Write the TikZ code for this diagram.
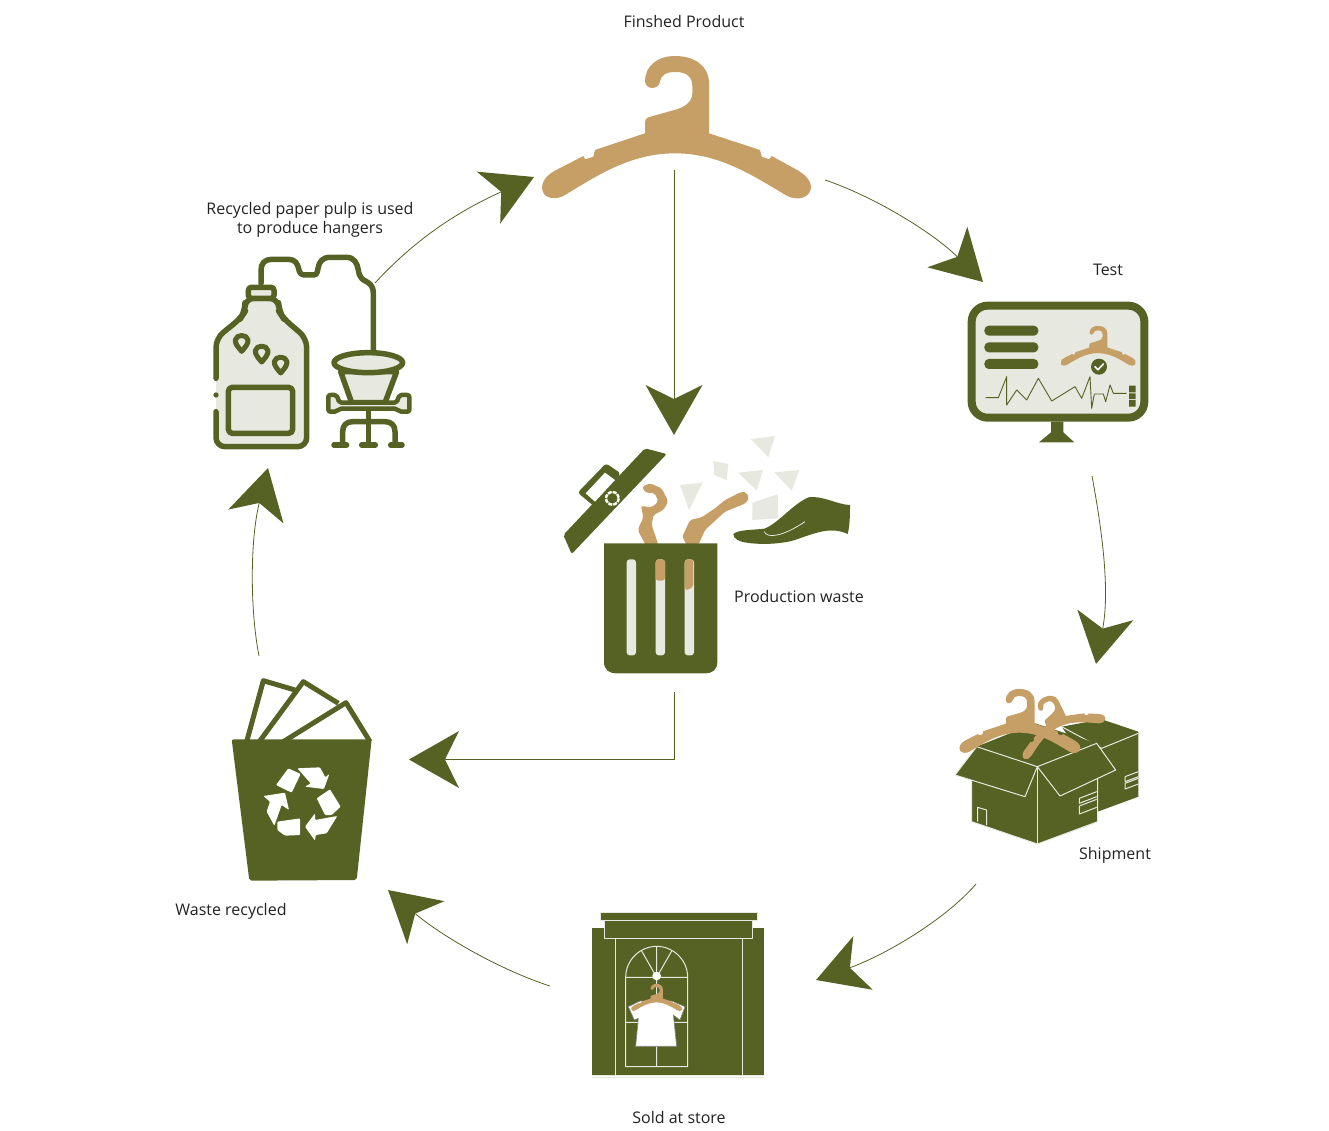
\documentclass[tikz,border=0pt]{standalone}
\usepackage{fontspec}
\setmainfont{Open Sans}
\usetikzlibrary{arrows.meta}
\definecolor{olive}{HTML}{556224}
\definecolor{hangertan}{HTML}{C69F66}
\definecolor{pale}{HTML}{E7E8E0}
\definecolor{labelink}{HTML}{222222}
\tikzset{
  label text/.style={font=\fontsize{16}{19}\selectfont,text=labelink,align=center,inner sep=0pt},
  flow/.style={draw=olive,line width=0.8pt,-{Stealth[length=50pt,width=57pt,inset=14pt,line width=0pt]}},
  pipe/.style={draw=olive,line width=5.5pt,line cap=round,line join=round},
  fine/.style={draw=pale,line width=1pt,line join=round},
}
\newcommand\hangericon[4]{%
  \begin{scope}[shift={(#1,#2)},rotate=#3,scale=#4,shift={(-440,-260)}]
  \fill[hangertan] (345,125) .. controls (348,150) and (385,150) .. (390,125)
    .. controls (392,105) and (410,95) .. (440,96) .. controls (470,97) and (487,110) .. (487,140)
    -- (487,160) .. controls (487,185) and (465,200) .. (440,208) -- (355,232)
    .. controls (347,235) and (345,240) .. (345,248) -- (345,280) -- (195,330) -- (190,350)
    -- (166,358) -- (160,348) -- (75,392) .. controls (40,410) and (28,440) .. (42,462)
    .. controls (55,478) and (85,478) .. (105,465)
    .. controls (200,408) and (300,340) .. (435,340) .. controls (570,340) and (670,408) .. (770,467)
    .. controls (795,480) and (825,478) .. (838,458)
    .. controls (852,435) and (835,410) .. (805,392) -- (725,348) -- (718,358) -- (695,350)
    -- (690,330) -- (537,280) -- (537,130) .. controls (537,75) and (490,48) .. (435,48)
    .. controls (385,48) and (345,75) .. (345,125) -- cycle;
  \end{scope}}
\newcommand\droppin[2]{%
  \draw[draw=olive,line width=5pt,line join=round,fill=pale] (#1,#2+24)
    .. controls (#1-10,#2+12) and (#1-20,#2+2) .. (#1-19,#2-10)
    .. controls (#1-16,#2-28) and (#1+16,#2-28) .. (#1+19,#2-10)
    .. controls (#1+20,#2+2) and (#1+10,#2+12) .. (#1,#2+24) -- cycle;}
\begin{document}
\begin{tikzpicture}[x=1pt,y=-1pt]
\useasboundingbox (0,0) rectangle (1329,1131);

% ---- finished product
\begin{scope}[shift={(530,40)},scale=1/3]
  \hangericon{440}{260}{0}{1}
\end{scope}

% ---- pulp machine
\begin{scope}[shift={(200,250)},scale=1/3]
  \fill[pale,rounded corners=9pt] (48,265) -- (122,205) -- (135,185) -- (135,145) -- (235,145) -- (237,185) -- (250,205)
     -- (320,265) -- (320,590) -- (48,590) -- cycle;
  \draw[pipe,rounded corners=9pt] (48,385) -- (48,265) -- (122,205) -- (135,185) -- (135,145) -- (235,145)
     -- (237,185) -- (250,205) -- (320,265) -- (320,590) -- (48,590) -- (48,485);
  \fill[olive] (48,435) circle (8);
  \draw[pipe,fill=pale,rounded corners=3pt] (145,112) rectangle (222,145);
  \draw[pipe,rounded corners=4pt] (85,412) rectangle (278,550);
  \droppin{125}{280}\droppin{185}{312}\droppin{242}{345}
  \draw[pipe] (183,100) -- (183,60) .. controls (183,40) and (195,28) .. (215,28) -- (265,28)
     .. controls (285,28) and (293,40) .. (297,60) .. controls (299,70) and (305,75) .. (315,75) -- (340,75)
     .. controls (350,75) and (352,68) .. (354,55) .. controls (357,35) and (368,22) .. (390,22) -- (440,22)
     .. controls (462,22) and (472,40) .. (475,60) .. controls (478,85) and (490,90) .. (500,95)
     .. controls (515,103) and (520,115) .. (520,130) -- (520,305);
  \draw[pipe,fill=pale] (422,365) -- (455,458) -- (555,458) -- (590,365) -- cycle;
  \draw[pipe,fill=pale] (505,338) ellipse (103 and 30);
  \draw[pipe,fill=pale,line width=4.5pt,rounded corners=2pt] (385,435) -- (410,435) -- (418,458) -- (590,458) -- (598,435) -- (628,435) -- (628,485) -- (598,485) -- (590,476) -- (418,476) -- (410,485) -- (385,485) -- cycle;
  \draw[pipe] (505,480) -- (505,585);
  \draw[pipe] (428,580) -- (428,545) .. controls (428,525) and (440,515) .. (458,515) -- (555,515) .. controls (573,515) and (585,525) .. (585,545) -- (585,580);
  \draw[pipe] (402,585) -- (440,585) (485,585) -- (526,585) (572,585) -- (606,585);
\end{scope}

% ---- test monitor
\begin{scope}[shift={(955,295)},scale=1/3]
  \draw[draw=olive,line width=8pt,fill=pale,rounded corners=16pt] (50,32) rectangle (568,368);
  \fill[olive,rounded corners=4.5pt] (88,92) rectangle (250,122) (88,142) rectangle (250,172) (88,192) rectangle (250,222);
  \fill[olive] (288,380) -- (325,380) -- (325,412) -- (358,442) -- (252,442) -- (288,412) -- cycle;
  \hangericon{430}{152}{0}{0.28}
  \fill[olive] (432,215) circle (24);
  \draw[white,line width=1.6pt,line cap=round,line join=round] (420,215) -- (429,224) -- (445,207);
  \draw[olive,line width=0.9pt,line join=round] (92,308) -- (130,308) -- (155,245) -- (155,330) -- (185,285) -- (215,315) -- (250,250) -- (290,318) -- (360,275) -- (380,310) -- (405,245) -- (410,340) -- (418,297) -- (445,297) -- (452,320) -- (465,270) -- (475,295) -- (515,295);
  \fill[olive] (522,272) rectangle (542,292) (522,295) rectangle (542,312) (522,315) rectangle (542,335);
\end{scope}

% ---- production waste bin
\begin{scope}[shift={(555,430)},scale=1/3]
  \fill[pale] (587,27) -- (660,18) -- (640,82) -- cycle
     (475,93) -- (520,102) -- (515,150) -- (478,135) -- cycle
     (550,128) -- (624,120) -- (605,182) -- cycle
     (658,127) -- (733,120) -- (710,182) -- cycle
     (592,218) -- (668,193) -- (670,265) -- (592,270) -- cycle
     (375,165) -- (443,158) -- (402,240) -- cycle;
  \fill[olive,rounded corners=2pt] (270,55) -- (335,72) -- (50,372) -- (25,315) -- cycle;
  \fill[olive,rounded corners=3pt] (153,100) -- (197,130) -- (125,235) -- (68,188) -- cycle;
  \fill[white] (150,128) -- (180,150) -- (120,215) -- (92,190) -- cycle;
  \draw[white,line width=2.4pt,dash pattern=on 4pt off 1pt] (172,205) circle (19);
  % torn hanger pieces
  \fill[hangertan,rounded corners=2pt] (262,170) -- (285,160) -- (320,175) -- (340,215) -- (325,240) -- (295,255) -- (290,285) -- (310,345) -- (272,345) -- (248,300) -- (265,262) -- (258,228) -- (290,232) -- (310,215) -- (300,190) -- (270,187) -- cycle;
  \fill[hangertan,rounded corners=2pt] (575,188) -- (560,185) -- (510,210) -- (480,235) -- (440,262) -- (405,270) -- (382,320) -- (395,345) -- (430,345) -- (450,300) -- (510,245) -- (572,220) -- (582,205) -- cycle;
  % bin
  \fill[olive] (147,340) -- (487,340) -- (487,695) .. controls (487,720) and (472,730) .. (450,730) -- (185,730) .. controls (162,730) and (147,720) .. (147,695) -- cycle;
  \fill[pale,rounded corners=3pt] (215,388) rectangle (243,676) (302,388) rectangle (330,676) (389,388) rectangle (417,676);
  \fill[hangertan,rounded corners=3pt] (302,388) rectangle (330,452);
  \fill[hangertan,rounded corners=3pt] (389,388) -- (415,388) -- (415,470) -- (400,480) -- (389,478) -- cycle;
  % hand
  \fill[olive] (535,312) .. controls (550,298) and (600,300) .. (628,296) .. controls (670,280) and (710,225) .. (760,202)
     .. controls (800,195) and (850,225) .. (885,225) .. controls (885,250) and (885,285) .. (878,312)
     .. controls (830,290) and (790,305) .. (720,330) .. controls (680,342) and (620,345) .. (575,338) .. controls (550,335) and (535,325) .. (535,312) -- cycle;
  \draw[pale,line width=0.8pt] (628,305) .. controls (635,325) and (680,322) .. (750,275);
\end{scope}

% ---- shipment
\begin{scope}[shift={(945,680)},scale=1/3]
  \fill[olive] (350,140) -- (470,118) -- (580,155) -- (580,350) -- (458,395) -- (458,300) -- cycle;
  \draw[fine] (350,140) -- (470,205) -- (580,160);
  \draw[fine] (540,290) -- (580,275) (540,290) -- (540,305) -- (580,290) (540,310) -- (580,295) (540,310) -- (540,327) -- (580,312);
  \fill[olive] (95,200) -- (270,130) -- (455,190) -- (277,260) -- cycle;
  \filldraw[fill=olive,fine] (80,300) -- (80,425) -- (277,492) -- (458,425) -- (458,295) -- (277,260) -- cycle;
  \draw[fine] (277,260) -- (277,492);
  \filldraw[fill=olive,fine] (95,200) -- (277,260) -- (240,350) -- (30,285) -- cycle;
  \filldraw[fill=olive,fine] (277,260) -- (455,190) -- (512,270) -- (345,348) -- cycle;
  \draw[fine] (98,425) -- (98,382) -- (125,390) -- (125,435);
  \draw[fine] (403,355) -- (455,335) (403,355) -- (403,370) -- (455,350) (403,378) -- (455,358) (403,378) -- (403,402) -- (455,382);
  \hangericon{225}{122}{0}{0.45}
  \hangericon{330}{116}{26}{0.34}
\end{scope}

% ---- store
\begin{scope}[shift={(585,905)},scale=1/3]
  \fill[olive] (22,68) rectangle (538,512);
  \filldraw[fill=olive,fine] (45,22) rectangle (518,45);
  \filldraw[fill=olive,fine] (57,45) rectangle (503,100);
  \draw[fine] (22,512) -- (538,512) (22,518) -- (538,518);
  \draw[fine] (92,100) -- (92,512) (472,100) -- (472,512);
  \draw[fine] (122,485) -- (122,217) .. controls (122,165) and (165,124) .. (215,124) .. controls (265,124) and (308,165) .. (308,217) -- (308,485) -- cycle;
  \draw[fine] (122,217) -- (308,217) (215,124) -- (215,485) (215,217) -- (170,138) (215,217) -- (260,138) (122,352) -- (308,352);
  \fill[white] (215,213) circle (13);
  \filldraw[fill=white,draw=gray,line width=0.7pt,dash pattern=on 2pt off 0.6pt,line join=round] (165,288) -- (260,288) -- (300,305) -- (285,345) -- (265,330) -- (275,424) -- (152,424) -- (160,340) -- (148,345) -- (130,305) -- cycle;
  \hangericon{215}{277}{0}{0.19}
\end{scope}

% ---- recycle bin
\begin{scope}[shift={(220,670)},scale=1/3]
  \draw[pipe,line width=5pt,line cap=butt] (80,215) -- (130,32) -- (225,60);
  \draw[pipe,line width=5pt,line cap=butt] (118,215) -- (250,35) -- (355,100);
  \draw[pipe,line width=5pt,line cap=butt] (190,215) -- (378,98) -- (450,215);
  \fill[olive,rounded corners=2pt] (35,208) -- (455,208) -- (410,630) -- (88,632) -- cycle;
  \fill[white,rounded corners=1pt] (168,345) -- (205,295) -- (242,312) -- (215,368) -- cycle;
  \fill[white,rounded corners=1pt] (232,295) -- (300,292) -- (316,322) -- (328,312) -- (312,357) -- (255,350) -- (272,340) -- cycle;
  \fill[white,rounded corners=1pt] (290,385) -- (330,358) -- (362,410) -- (335,435) -- (315,435) -- cycle;
  \fill[white,rounded corners=1pt] (352,438) -- (320,490) -- (287,495) -- (285,512) -- (255,470) -- (285,430) -- (285,450) -- cycle;
  \fill[white,rounded corners=1pt] (172,455) -- (240,445) -- (240,495) -- (195,497) -- (172,480) -- cycle;
  \fill[white,rounded corners=1pt] (130,378) -- (195,368) -- (207,420) -- (185,405) -- (163,467) -- (140,425) -- (150,395) -- cycle;
\end{scope}

% ---- labels
\node[label text] (lblProduct) at (684,22) {Finshed Product};
\node[label text] (lblTest) at (1108,270) {Test};
\node[label text] (lblPulp) at (310,219.5) {Recycled paper pulp is used\\to produce hangers};
\node[label text] (lblWaste) at (799,596) {Production waste};
\node[label text] (lblShipment) at (1115,855) {Shipment};
\node[label text] (lblStore) at (679,1117) {Sold at store};
\node[label text] (lblRecycled) at (231,911) {Waste recycled};

% ---- connector ends
\coordinate (pulpOut) at (375,283);
\coordinate (hangerIn) at (534,177);
\coordinate (hangerOut) at (825,180);
\coordinate (testIn) at (983,282);
\coordinate (testOut) at (1092,476);
\coordinate (shipIn) at (1096,664);
\coordinate (shipOut) at (976,884);
\coordinate (storeIn) at (816,980);
\coordinate (storeOut) at (550,986);
\coordinate (recycleIn) at (388,890);
\coordinate (recycleOut) at (259,656);
\coordinate (pulpIn) at (268,468);
\coordinate (hangerDown) at (674,170);
\coordinate (trashIn) at (674,435);
\coordinate (trashOut) at (674,692);
\coordinate (recycleSide) at (409,759.5);

\draw[flow] (pulpOut) .. controls (410,245) and (450,215) .. (hangerIn);
\draw[flow] (hangerOut) .. controls (870,195) and (930,230) .. (testIn);
\draw[flow] (testOut) .. controls (1102,530) and (1110,590) .. (shipIn);
\draw[flow] (shipOut) .. controls (945,920) and (885,955) .. (storeIn);
\draw[flow] (storeOut) .. controls (500,970) and (440,935) .. (recycleIn);
\draw[flow] (recycleOut) .. controls (250,610) and (250,540) .. (pulpIn);
\draw[flow] (hangerDown) -- (trashIn);
\draw[flow] (trashOut) |- (recycleSide);
\end{tikzpicture}
\end{document}
